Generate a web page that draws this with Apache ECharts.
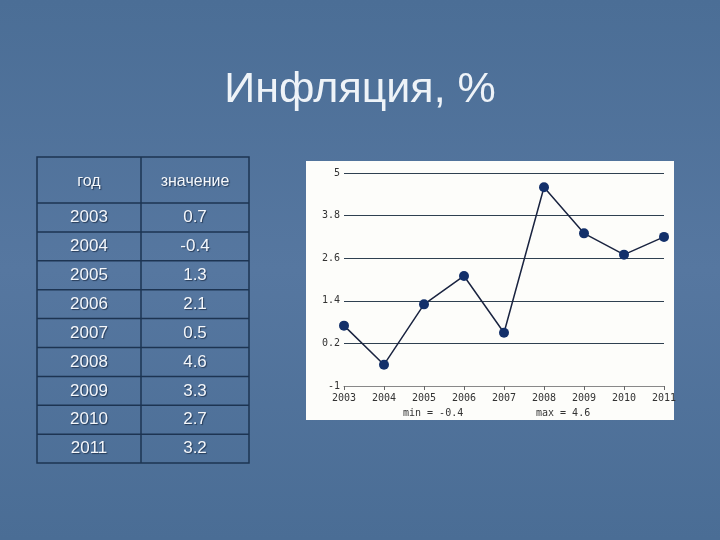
<!DOCTYPE html>
<html>
<head>
<meta charset="utf-8">
<script src="https://cdn.jsdelivr.net/npm/echarts@6/dist/echarts.min.js"></script>
<style>
  html, body { margin: 0; padding: 0; }
  #chart { width: 720px; height: 540px; }
</style>
</head>
<body>
<div id="chart"></div>
<script>
var years = ['2003', '2004', '2005', '2006', '2007', '2008', '2009', '2010', '2011']
var inflation = [0.7, -0.4, 1.3, 2.1, 0.5, 4.6, 3.3, 2.7, 3.2]
var yTicks = [-1, 0.2, 1.4, 2.6, 3.8, 5]
var tableHead = ['год', 'значение']

var chart = echarts.init(document.getElementById('chart'))

// table on the left, built from the same arrays
var tbl = { x0: 37, x1: 141, x2: 249, top: 157, headBottom: 203, rowH: 28.9 }
var tableEls = []
var bottom = tbl.headBottom + tbl.rowH * years.length
var lineStyle = { stroke: '#1d3452', lineWidth: 1.5 }
tableEls.push({ type: 'rect', shape: { x: tbl.x0, y: tbl.top, width: tbl.x2 - tbl.x0, height: bottom - tbl.top }, style: { fill: 'none', stroke: '#1d3452', lineWidth: 1.5 } })
tableEls.push({ type: 'line', shape: { x1: tbl.x1, y1: tbl.top, x2: tbl.x1, y2: bottom }, style: lineStyle })
tableEls.push({ type: 'line', shape: { x1: tbl.x0, y1: tbl.headBottom, x2: tbl.x2, y2: tbl.headBottom }, style: lineStyle })
var cellText = function(x, y, t, size) {
  return {
    type: 'text', x: x, y: y,
    style: { text: t, fill: '#f4f7fb', font: size + 'px "Liberation Sans", Arial, sans-serif', align: 'center', verticalAlign: 'middle',
      textShadowColor: 'rgba(20,35,60,0.7)', textShadowOffsetX: 1, textShadowOffsetY: 1, textShadowBlur: 1 }
  }
}
tableEls.push(cellText((tbl.x0 + tbl.x1) / 2, 182, tableHead[0], 16))
tableEls.push(cellText((tbl.x1 + tbl.x2) / 2, 182, tableHead[1], 16))
years.forEach(function(y, i) {
  var cy = tbl.headBottom + tbl.rowH * i + tbl.rowH / 2
  if (i > 0) {
    tableEls.push({ type: 'line', shape: { x1: tbl.x0, y1: tbl.headBottom + tbl.rowH * i, x2: tbl.x2, y2: tbl.headBottom + tbl.rowH * i }, style: lineStyle })
  }
  tableEls.push(cellText((tbl.x0 + tbl.x1) / 2, cy, y, 17))
  tableEls.push(cellText((tbl.x1 + tbl.x2) / 2, cy, String(inflation[i]), 17))
})

var minVal = Math.min.apply(null, inflation)
var maxVal = Math.max.apply(null, inflation)
var smallFont = '10px "DejaVu Sans Mono", monospace'

var option = {
  backgroundColor: {
    type: 'linear', x: 0, y: 0, x2: 0, y2: 1,
    colorStops: [
      { offset: 0, color: '#4b6e96' },
      { offset: 0.5, color: '#5677a0' },
      { offset: 1, color: '#4a6d95' }
    ]
  },
  title: {
    text: 'Инфляция, %',
    left: 'center',
    top: 64,
    textStyle: { color: '#eef3f8', fontSize: 43, fontWeight: 'normal', fontFamily: '"Liberation Sans", Arial, sans-serif' }
  },
  graphic: [
    { type: 'rect', z: -1, shape: { x: 306, y: 161, width: 368, height: 259 }, style: { fill: '#fdfdfa' } },
    { type: 'text', x: 403, y: 408, style: { text: 'min = ' + minVal, font: smallFont, fill: '#333' } },
    { type: 'text', x: 536, y: 408, style: { text: 'max = ' + maxVal, font: smallFont, fill: '#333' } }
  ].concat(tableEls),
  grid: { left: 344, right: 56, top: 173, bottom: 154 },
  xAxis: {
    type: 'category',
    data: years,
    boundaryGap: false,
    z: 3,
    axisLine: { onZero: false, lineStyle: { color: '#888', width: 1 } },
    axisTick: { show: true, length: 4, lineStyle: { color: '#666' } },
    axisLabel: { color: '#333', fontSize: 10, fontFamily: '"DejaVu Sans Mono", monospace', margin: 7 }
  },
  yAxis: {
    type: 'value',
    min: -1,
    max: 5,
    axisLine: { show: false },
    axisTick: { show: false, customValues: yTicks },
    axisLabel: { customValues: yTicks, color: '#333', fontSize: 10, fontFamily: '"DejaVu Sans Mono", monospace', margin: 4 },
    splitLine: { show: true, lineStyle: { color: '#2f4050', width: 1 } }
  },
  series: [{
    type: 'line',
    data: inflation,
    symbol: 'circle',
    symbolSize: 10,
    itemStyle: { color: '#13306a' },
    lineStyle: { color: '#1a2440', width: 1.5 },
    z: 5
  }]
}
chart.setOption(option)
</script>
</body>
</html>
